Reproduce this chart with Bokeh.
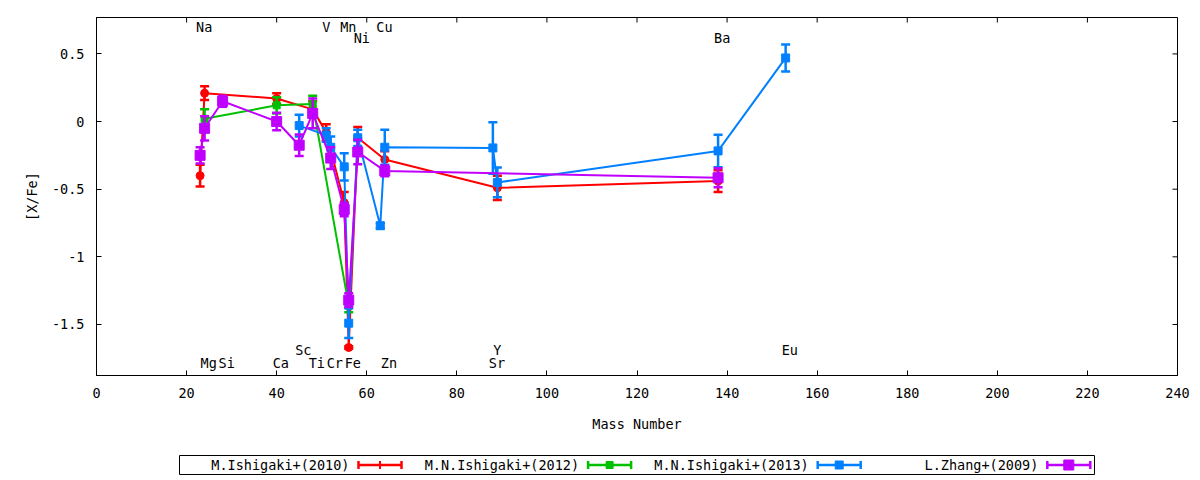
import math
from bokeh.plotting import figure
from bokeh.models import Range1d, FixedTicker, CustomJSTickFormatter
from bokeh.layouts import column
from bokeh.embed import file_html
from bokeh.resources import INLINE
from bokeh.core.properties import value

FONT = "DejaVu Sans Mono"
FS = "13.5px"

# ---------------- data ----------------
x_ticks = list(range(0, 241, 20))
y_ticks = [-1.5, -1.0, -0.5, 0.0, 0.5]
x_lim = (0, 240)
y_lim = (-1.877, 0.769)

el_names = ["Na", "V", "Mn", "Cu", "Ni", "Ba",
            "Sc", "Y", "Eu",
            "Mg", "Si", "Ca", "Ti", "Cr", "Fe", "Zn", "Sr"]
el_mass = [23, 51, 55, 63, 58, 138,
           45, 89, 153,
           24, 28, 40, 48, 52, 56, 64, 88]
el_y = [0.70, 0.70, 0.70, 0.70, 0.62, 0.62,
        -1.685, -1.685, -1.685,
        -1.785, -1.785, -1.785, -1.785, -1.785, -1.785, -1.785, -1.785]

# M.Ishigaki+(2010)
red_mass = [23, 24, 40, 48, 51, 55, 56, 58, 64, 89, 138]
red_val = [-0.40, 0.21, 0.17, 0.09, -0.08, -0.60, -1.67, -0.12, -0.28, -0.49, -0.44]
red_err = [0.08, 0.05, 0.04, 0.06, 0.06, 0.08, 0.01, 0.08, 0.06, 0.09, 0.08]

# M.N.Ishigaki+(2012)
green_mass = [24, 40, 48, 56]
green_val = [0.02, 0.12, 0.13, -1.36]
green_err = [0.07, 0.06, 0.06, 0.05]

# M.N.Ishigaki+(2013)
blue_mass = [45, 51, 52, 55, 56, 58, 63, 64, 88, 89, 138, 153]
blue_val = [-0.03, -0.10, -0.19, -0.335, -1.49, -0.12, -0.77, -0.19, -0.195, -0.45, -0.217, 0.47]
blue_err = [0.08, 0.05, 0.08, 0.10, 0.11, 0.06, 0.02, 0.13, 0.19, 0.11, 0.12, 0.10]

# L.Zhang+(2009)
purple_mass = [23, 24, 28, 40, 45, 48, 52, 55, 56, 58, 64, 138]
purple_val = [-0.25, -0.05, 0.15, 0.0, -0.175, 0.06, -0.27, -0.65, -1.32, -0.225, -0.365, -0.415]
purple_err = [0.06, 0.09, 0.04, 0.065, 0.08, 0.11, 0.08, 0.05, 0.05, 0.09, 0.04, 0.07]

series_names = ["M.Ishigaki+(2010)", "M.N.Ishigaki+(2012)", "M.N.Ishigaki+(2013)", "L.Zhang+(2009)"]
series_colors = ["#ff0000", "#00c000", "#0080ff", "#c000ff"]
series_markers = ["circle", "square", "square", "square"]
series_msize = [8, 7, 8, 10]
series_data = [(red_mass, red_val, red_err), (green_mass, green_val, green_err),
               (blue_mass, blue_val, blue_err), (purple_mass, purple_val, purple_err)]

# ---------------- layout constants ----------------
FIG_W = 1192
FRAME_L = 96
FRAME_W = 1081
FRAME_T = 17
FRAME_H = 358
MAIN_H = 440
LEG_H = 40

# ---------------- main plot ----------------
p = figure(width=FIG_W, height=MAIN_H, x_range=Range1d(*x_lim), y_range=Range1d(*y_lim),
           output_backend="svg", toolbar_location=None,
           min_border_left=FRAME_L, min_border_right=FIG_W - FRAME_L - FRAME_W,
           min_border_top=FRAME_T, min_border_bottom=MAIN_H - FRAME_T - FRAME_H)
p.xgrid.visible = False
p.ygrid.visible = False
p.outline_line_color = "black"
p.outline_line_width = 1
p.background_fill_color = "white"

p.xaxis.ticker = FixedTicker(ticks=x_ticks)
p.yaxis.ticker = FixedTicker(ticks=y_ticks)
p.yaxis.formatter = CustomJSTickFormatter(code="return String(tick);")
p.xaxis.formatter = CustomJSTickFormatter(code="return String(tick);")
p.xaxis.axis_label = "Mass Number"
p.yaxis.axis_label = "[X/Fe]"
for ax in [p.xaxis[0], p.yaxis[0]]:
    ax.major_tick_in = 5
    ax.major_tick_out = 0
    ax.minor_tick_in = 0
    ax.minor_tick_out = 0
    ax.axis_line_color = "black"
    ax.major_tick_line_color = "black"
    ax.major_label_text_font = FONT
    ax.major_label_text_font_size = FS
    ax.major_label_text_color = "black"
    ax.major_label_standoff = 12
    ax.axis_label_text_font = FONT
    ax.axis_label_text_font_size = FS
    ax.axis_label_text_font_style = "normal"
    ax.axis_label_text_color = "black"
p.xaxis.axis_label_standoff = 15
p.yaxis.axis_label_standoff = 9

# mirrored inward ticks on top and right edges (clipped to the frame)
p.scatter(x=x_ticks, y=[y_lim[1]] * len(x_ticks), marker="dash", angle=math.pi / 2,
          size=10, line_color="black", line_width=1)
p.scatter(x=[x_lim[1]] * len(y_ticks), y=y_ticks, marker="dash",
          size=10, line_color="black", line_width=1)

for (mass, val, err), col, mk, ms in zip(series_data, series_colors, series_markers, series_msize):
    lo = [v - e for v, e in zip(val, err)]
    hi = [v + e for v, e in zip(val, err)]
    p.line(mass, val, line_color=col, line_width=2)
    p.segment(x0=mass, y0=lo, x1=mass, y1=hi, line_color=col, line_width=2.5)
    p.scatter(x=mass + mass, y=lo + hi, marker="dash", size=9, line_color=col, line_width=2.5)
    p.scatter(x=mass, y=val, marker=mk, size=ms, fill_color=col, line_color=col, line_width=1)

p.text(x=el_mass, y=el_y, text=el_names, text_font=value(FONT), text_font_size=value(FS),
       text_align="left", text_baseline="middle", x_offset=-4, text_color="black")

# ---------------- legend (page-pixel coordinates) ----------------
leg = figure(width=FIG_W, height=LEG_H,
             x_range=Range1d(FRAME_L, FRAME_L + FRAME_W), y_range=Range1d(MAIN_H + LEG_H, MAIN_H),
             output_backend="svg", toolbar_location=None, min_border=0)
leg.axis.visible = False
leg.xgrid.visible = False
leg.ygrid.visible = False
leg.outline_line_color = None

yc = 464.5
leg.quad(left=[179], right=[1094], top=[455], bottom=[474], fill_color=None,
         line_color="black", line_width=1)
for k, (name, col, mk, ms) in enumerate(zip(series_names, series_colors, series_markers, series_msize)):
    x_text = 349 + 229.6 * k
    x0 = x_text + 9
    x1 = x0 + 43
    leg.text(x=[x_text], y=[yc], text=[name], text_font=value(FONT), text_font_size=value(FS),
             text_align="right", text_baseline="middle", text_color="black")
    leg.segment(x0=[x0], y0=[yc], x1=[x1], y1=[yc], line_color=col, line_width=2.5)
    leg.segment(x0=[x0, x1], y0=[yc - 4, yc - 4], x1=[x0, x1], y1=[yc + 4, yc + 4],
                line_color=col, line_width=2.5)
    if k == 0:
        leg.segment(x0=[(x0 + x1) / 2], y0=[yc - 4], x1=[(x0 + x1) / 2], y1=[yc + 4],
                    line_color=col, line_width=2)
    else:
        leg.scatter(x=[(x0 + x1) / 2], y=[yc], marker=mk, size=ms, fill_color=col, line_color=col)

layout = column(p, leg, spacing=0)
open("out.html", "w").write(file_html(layout, INLINE))
